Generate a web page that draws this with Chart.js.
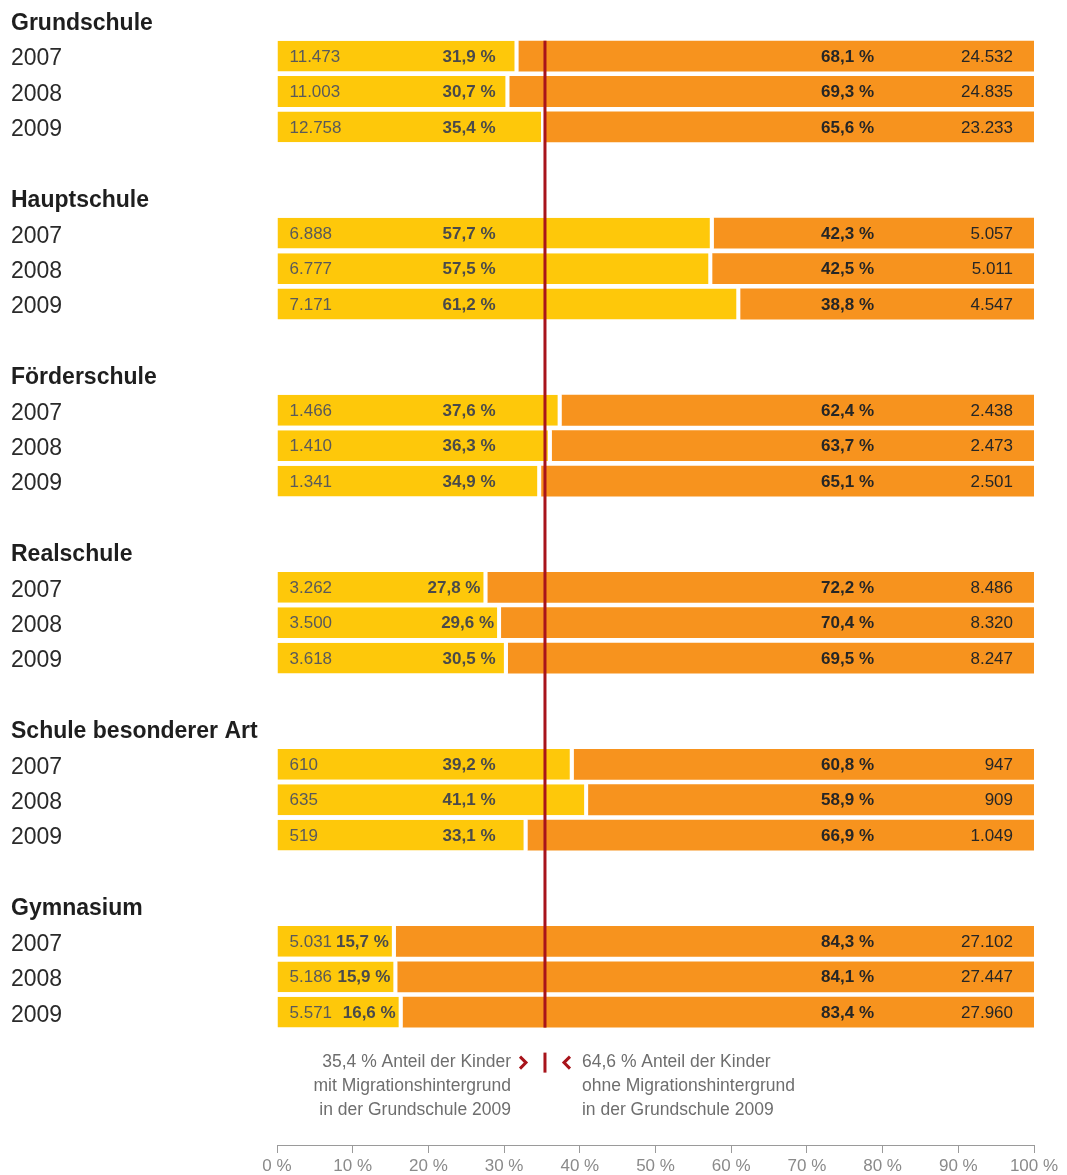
<!DOCTYPE html>
<html lang="de">
<head>
<meta charset="utf-8">
<script src="https://cdn.jsdelivr.net/npm/chart.js@4.4.1/dist/chart.umd.min.js"></script>
<style>
  html, body { margin: 0; padding: 0; background: #ffffff; }
  #wrap { width: 1067px; height: 1175px; position: relative; }
</style>
</head>
<body>
<div id="wrap"><canvas id="c"></canvas></div>
<script>
// ---------- data ----------
const groups = ['Grundschule', 'Hauptschule', 'Förderschule', 'Realschule', 'Schule besonderer Art', 'Gymnasium'];
const years = ['2007', '2008', '2009'];
// share of children WITH migration background (%)
const pctWith = [
  [31.9, 30.7, 35.4],
  [57.7, 57.5, 61.2],
  [37.6, 36.3, 34.9],
  [27.8, 29.6, 30.5],
  [39.2, 41.1, 33.1],
  [15.7, 15.9, 16.6]
];
// share of children WITHOUT migration background (%)
const pctWithout = [
  [68.1, 69.3, 65.6],
  [42.3, 42.5, 38.8],
  [62.4, 63.7, 65.1],
  [72.2, 70.4, 69.5],
  [60.8, 58.9, 66.9],
  [84.3, 84.1, 83.4]
];
const countWith = [
  [11473, 11003, 12758],
  [6888, 6777, 7171],
  [1466, 1410, 1341],
  [3262, 3500, 3618],
  [610, 635, 519],
  [5031, 5186, 5571]
];
const countWithout = [
  [24532, 24835, 23233],
  [5057, 5011, 4547],
  [2438, 2473, 2501],
  [8486, 8320, 8247],
  [947, 909, 1049],
  [27102, 27447, 27960]
];
const xTicks = [0, 10, 20, 30, 40, 50, 60, 70, 80, 90, 100];
// reference line (Grundschule 2009) and the shares quoted in the note below
const refValue = 35.4;
const noteShares = [35.4, 64.6];
const noteLeft = ['Anteil der Kinder', 'mit Migrationshintergrund', 'in der Grundschule 2009'];
const noteRight = ['Anteil der Kinder', 'ohne Migrationshintergrund', 'in der Grundschule 2009'];

// ---------- helpers ----------
const FONT = "'Liberation Sans', Arial, Helvetica, sans-serif";
const YELLOW = '#FEC80A';
const ORANGE = '#F7931E';
const RED = '#A8141B';
const fmtNum = n => String(n).replace(/\B(?=(\d{3})+(?!\d))/g, '.');
const fmtPct = v => v.toFixed(1).replace('.', ',') + ' %';

// row layout: header, 3 years, spacer per group
const rowLabels = [];
const headerRows = new Set();
groups.forEach(g => {
  headerRows.add(rowLabels.length);
  rowLabels.push(g);
  years.forEach(y => rowLabels.push(y));
  rowLabels.push('');
});

const withData = [], withoutData = [], cWith = [], cWithout = [];
groups.forEach((g, gi) => years.forEach((y, yi) => {
  const row = gi * 5 + 1 + yi;
  withData.push({ x: pctWith[gi][yi], y: row });
  withoutData.push({ x: pctWithout[gi][yi], y: row });
  cWith.push(countWith[gi][yi]);
  cWithout.push(countWithout[gi][yi]);
}));

// ---------- plugin: labels, reference line, note text ----------
const overlayPlugin = {
  id: 'overlay',
  afterDatasetsDraw(chart) {
    const ctx = chart.ctx;
    const xs = chart.scales.x;
    const area = chart.chartArea;
    const m0 = chart.getDatasetMeta(0).data;
    const m1 = chart.getDatasetMeta(1).data;
    const xRef = xs.getPixelForValue(refValue);
    const first = m0[0].getProps(['y', 'height'], true);
    const last = m0[m0.length - 1].getProps(['y', 'height'], true);
    const top = first.y - first.height / 2;
    const bottom = last.y + last.height / 2;
    ctx.save();
    // reference line
    ctx.fillStyle = RED;
    ctx.fillRect(xRef - 1.5, top, 3, bottom - top);

    ctx.textBaseline = 'middle';
    // yellow bar labels
    m0.forEach((el, i) => {
      const b = el.getProps(['x', 'y', 'base'], true);
      ctx.fillStyle = '#5a5a5a';
      ctx.font = `normal 17px ${FONT}`;
      ctx.textAlign = 'left';
      ctx.fillText(fmtNum(cWith[i]), b.base + 12, b.y + 1);
      ctx.fillStyle = '#4a4a4a';
      ctx.font = `bold 17px ${FONT}`;
      ctx.textAlign = 'right';
      ctx.fillText(fmtPct(withData[i].x), Math.min(b.base + 218, b.x - 7), b.y + 1);
    });
    // orange bar labels
    m1.forEach((el, i) => {
      const b = el.getProps(['x', 'y'], true);
      ctx.fillStyle = '#262626';
      ctx.font = `bold 17px ${FONT}`;
      ctx.textAlign = 'right';
      ctx.fillText(fmtPct(withoutData[i].x), area.right - 160, b.y + 1);
      ctx.font = `normal 17px ${FONT}`;
      ctx.fillText(fmtNum(cWithout[i]), area.right - 21, b.y + 1);
    });

    // note under the bars
    const y0 = bottom + 35;
    const lh = 24;
    const leftLines = noteLeft.map((t, k) => k === 0 ? fmtPct(noteShares[0]) + ' ' + t : t);
    const rightLines = noteRight.map((t, k) => k === 0 ? fmtPct(noteShares[1]) + ' ' + t : t);
    ctx.font = `normal 17.5px ${FONT}`;
    ctx.fillStyle = '#6e6e6e';
    ctx.textAlign = 'right';
    leftLines.forEach((t, k) => ctx.fillText(t, xRef - 34, y0 + k * lh));
    ctx.textAlign = 'left';
    rightLines.forEach((t, k) => ctx.fillText(t, xRef + 37, y0 + k * lh));
    ctx.fillStyle = RED;
    ctx.fillRect(xRef - 1.5, y0 - 10, 3, 20);
    // chevrons
    ctx.strokeStyle = RED;
    ctx.lineWidth = 3;
    ctx.lineCap = 'butt';
    ctx.lineJoin = 'miter';
    ctx.beginPath();
    ctx.moveTo(xRef - 25, y0 - 6); ctx.lineTo(xRef - 19, y0); ctx.lineTo(xRef - 25, y0 + 6);
    ctx.moveTo(xRef + 25, y0 - 6); ctx.lineTo(xRef + 19, y0); ctx.lineTo(xRef + 25, y0 + 6);
    ctx.stroke();
    ctx.restore();
  }
};

// ---------- chart ----------
new Chart(document.getElementById('c'), {
  type: 'bar',
  data: {
    datasets: [
      {
        label: 'mit Migrationshintergrund',
        data: withData,
        backgroundColor: YELLOW,
        borderColor: '#ffffff',
        borderWidth: { top: 0, bottom: 0, left: 0, right: 4 },
        borderSkipped: false,
        categoryPercentage: 1,
        barPercentage: 0.87
      },
      {
        label: 'ohne Migrationshintergrund',
        data: withoutData,
        backgroundColor: ORANGE,
        borderWidth: 0,
        categoryPercentage: 1,
        barPercentage: 0.87
      }
    ]
  },
  options: {
    indexAxis: 'y',
    responsive: true,
    maintainAspectRatio: false,
    animation: false,
    devicePixelRatio: 1,
    layout: { padding: { top: 3, left: 11, right: 33, bottom: 0 } },
    plugins: {
      legend: { display: false },
      tooltip: { enabled: false }
    },
    scales: {
      x: {
        type: 'linear',
        stacked: true,
        offset: false,
        min: 0,
        max: 100,
        afterBuildTicks: s => { s.ticks = xTicks.map(v => ({ value: v })); },
        afterFit: s => { s.height = 30; s.paddingLeft = 0; s.paddingRight = 0; },
        ticks: {
          callback: v => v + ' %',
          color: '#8a8a8a',
          font: { family: FONT, size: 17 },
          padding: 3,
          maxRotation: 0,
          autoSkip: false
        },
        grid: { display: true, drawOnChartArea: false, drawTicks: true, tickLength: 8, color: '#9a9a9a', offset: false },
        border: { display: true, color: '#9a9a9a', width: 1 }
      },
      y: {
        type: 'linear',
        stacked: true,
        reverse: true,
        offset: false,
        min: -0.5,
        max: 31.75,
        afterBuildTicks: s => { s.ticks = rowLabels.map((l, i) => ({ value: i })).filter(t => rowLabels[t.value]); },
        afterFit: s => { s.width = 266; s.paddingTop = 0; s.paddingBottom = 0; },
        ticks: {
          autoSkip: false,
          crossAlign: 'far',
          padding: 0,
          labelOffset: 3,
          callback: v => rowLabels[v],
          color: ctx => (ctx.tick && headerRows.has(ctx.tick.value)) ? '#1e1e1e' : '#2a2a2a',
          font: ctx => (ctx.tick && headerRows.has(ctx.tick.value))
            ? { family: FONT, size: 23, weight: 'bold' }
            : { family: FONT, size: 23, weight: 'normal' }
        },
        grid: { display: false, drawTicks: false, offset: false },
        border: { display: false }
      }
    }
  },
  plugins: [overlayPlugin]
});
</script>
</body>
</html>
